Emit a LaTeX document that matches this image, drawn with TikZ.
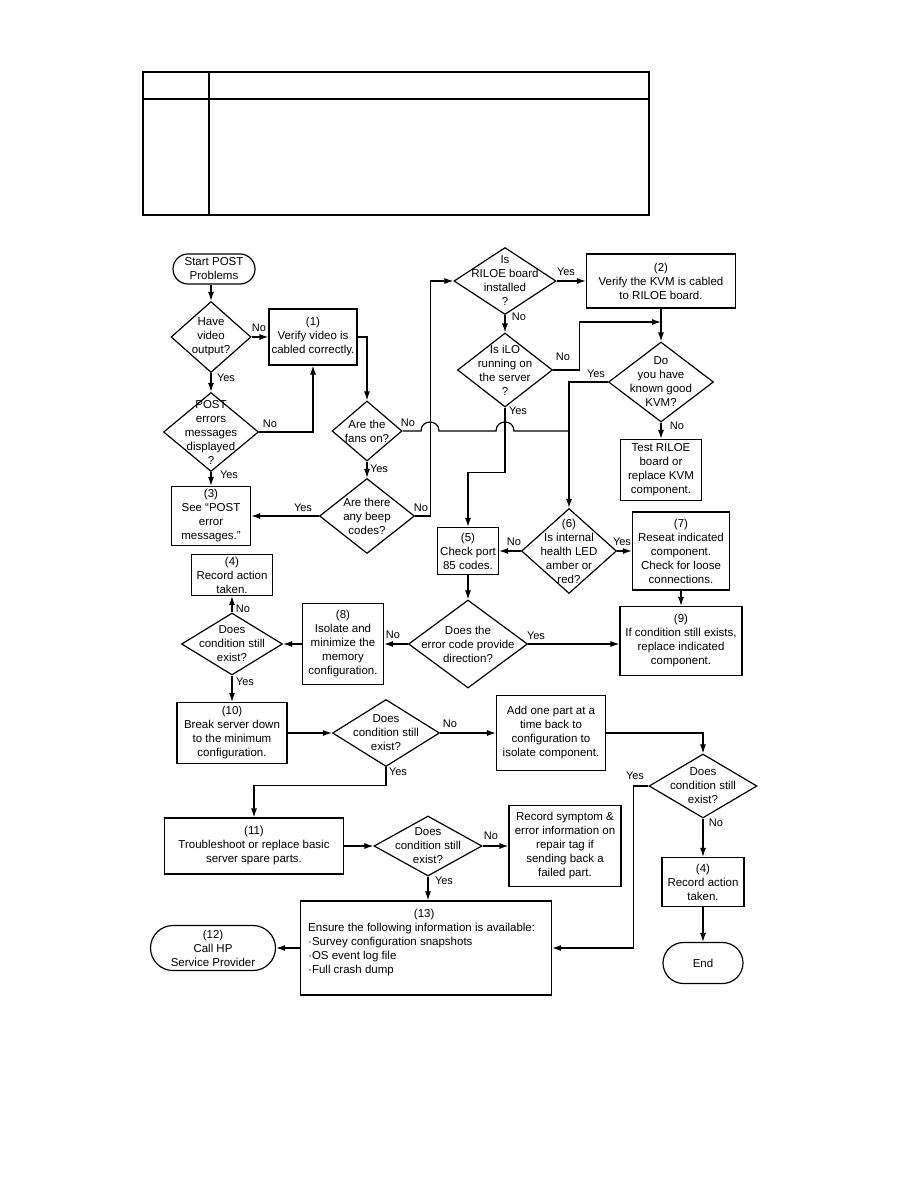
\documentclass[tikz,border=0pt]{standalone}
\usepackage{fontspec}
\setmainfont{Liberation Sans}
\usetikzlibrary{shapes.geometric,shapes.misc,arrows.meta}
\begin{document}
\begin{tikzpicture}[x=1pt,y=-1pt,
 every node/.style={font=\fontsize{11.5}{14}\selectfont},
 box/.style={draw, line width=1.2pt, rectangle, inner sep=1pt, align=center},
 dia/.style={draw, line width=1.2pt, diamond, inner sep=0pt},
 term/.style={draw, line width=1.2pt, rounded rectangle, inner sep=1pt, align=center},
 lbl/.style={inner sep=0pt, align=center},
 arr/.style={line width=1.2pt, -{Latex[length=9pt,width=6pt]}},
 ln/.style={line width=1.2pt},
 yn/.style={inner sep=0pt, font=\fontsize{11}{13}\selectfont}]
\useasboundingbox (0,0) rectangle (918,1188);
% table
\draw[line width=1.5pt] (143,72) rectangle (649,215);
\draw[line width=1.5pt] (209,72) -- (209,215);
\draw[line width=1.5pt] (143,99) -- (649,99);

% nodes
\node[term, minimum width=84pt, minimum height=30pt] (start) at (214,269) {Start POST\\Problems};
\node[dia, minimum width=80pt, minimum height=71pt] (dvid) at (211,337) {};
\node[lbl] (dvidt) at (dvid) {Have\\video\\output?};
\node[box, minimum width=88pt, minimum height=56pt] (b1) at (313,337) {(1)\\Verify video is\\cabled correctly.};
\node[dia, minimum width=95pt, minimum height=79pt] (dpost) at (211,432) {};
\node[lbl] (dpostt) at (dpost) {POST\\errors\\messages\\displayed\\?};
\node[box, minimum width=79pt, minimum height=59pt] (b3) at (211,516) {(3)\\See “POST\\error\\messages.”};
\node[dia, minimum width=70pt, minimum height=60pt] (dfans) at (367,431) {};
\node[lbl] (dfanst) at (dfans) {Are the\\fans on?};
\node[dia, minimum width=95pt, minimum height=75pt] (dbeep) at (367,516) {};
\node[lbl] (dbeept) at (dbeep) {Are there\\any beep\\codes?};
\node[dia, minimum width=102pt, minimum height=67pt] (driloe) at (505,281) {};
\node[lbl] (driloet) at (driloe) {Is\\RILOE board\\installed\\?};
\node[box, minimum width=149pt, minimum height=54pt] (b2) at (661,281) {(2)\\Verify the KVM is cabled\\to RILOE board.};
\node[dia, minimum width=95pt, minimum height=74pt] (dilo) at (505,370) {};
\node[lbl] (dilot) at (dilo) {Is iLO\\running on\\the server\\?};
\node[dia, minimum width=105pt, minimum height=80pt] (dkvm) at (661,382) {};
\node[lbl] (dkvmt) at (dkvm) {Do\\you have\\known good\\KVM?};
\node[box, minimum width=81pt, minimum height=61pt] (btest) at (661,470) {Test RILOE\\board or\\replace KVM\\component.};
\node[box, minimum width=61pt, minimum height=47pt] (b5) at (468,551) {(5)\\Check port\\85 codes.};
\node[dia, minimum width=95pt, minimum height=85pt] (d6) at (569,551) {};
\node[lbl] (d6t) at (d6) {(6)\\Is internal\\health LED\\amber or\\red?};
\node[box, minimum width=97pt, minimum height=78pt] (b7) at (681,551) {(7)\\Reseat indicated\\component.\\Check for loose\\connections.};
\node[box, minimum width=122pt, minimum height=69pt] (b9) at (681,641) {(9)\\If condition still exists,\\replace indicated\\component.};
\node[dia, minimum width=119pt, minimum height=88pt] (derr) at (468,644) {};
\node[lbl] (derrt) at (derr) {Does the\\error code provide\\direction?};
\node[box, minimum width=81pt, minimum height=81pt] (b8) at (343,644) {(8)\\Isolate and\\minimize the\\memory\\configuration.};
\node[dia, minimum width=101pt, minimum height=62pt] (dc1) at (232,644) {};
\node[lbl] (dc1t) at (dc1) {Does\\condition still\\exist?};
\node[box, minimum width=81pt, minimum height=41pt] (b4a) at (232,575) {(4)\\Record action\\taken.};
\node[box, minimum width=110pt, minimum height=61pt] (b10) at (232,733) {(10)\\Break server down\\to the minimum\\configuration.};
\node[dia, minimum width=107pt, minimum height=67pt] (dc2) at (386,733) {};
\node[lbl] (dc2t) at (dc2) {Does\\condition still\\exist?};
\node[box, minimum width=109pt, minimum height=75pt] (badd) at (551,733) {Add one part at a\\time back to\\configuration to\\isolate component.};
\node[box, minimum width=179pt, minimum height=56pt] (b11) at (254,846) {(11)\\Troubleshoot or replace basic\\server spare parts.};
\node[dia, minimum width=108pt, minimum height=60pt] (dc3) at (428,846) {};
\node[lbl] (dc3t) at (dc3) {Does\\condition still\\exist?};
\node[box, minimum width=112pt, minimum height=81pt] (brec) at (565,846) {Record symptom \&\\error information on\\repair tag if\\sending back a\\failed part.};
\node[box, minimum width=251pt, minimum height=94pt] (b13) at (426,948) {};
\node[lbl, anchor=north west, align=left] (b13t) at (308,909) {\makebox[232pt]{(13)}\\Ensure the following information is available:\\·Survey configuration snapshots\\·OS event log file\\·Full crash dump};
\node[term, minimum width=127pt, minimum height=45pt] (t12) at (213,948) {(12)\\Call HP\\Service Provider};
\node[dia, minimum width=108pt, minimum height=64pt] (dc4) at (703,786) {};
\node[lbl] (dc4t) at (dc4) {Does\\condition still\\exist?};
\node[box, minimum width=82pt, minimum height=49pt] (b4b) at (703,882) {(4)\\Record action\\taken.};
\node[term, minimum width=82pt, minimum height=41pt] (tend) at (703,963) {End};

\coordinate (j1) at (569,431);
\coordinate (j2) at (661,322);

% connectors
\draw[arr] (start.south -| dvid.north) -- (dvid.north);
\draw[arr] (dvid.east) -- (b1.west);
\draw[arr] (dvid.south) -- (dpost.north);
\draw[arr] (dpost.east) -| (b1.south);
\draw[arr] (dpost.south) -- (b3.north);
\draw[arr] (b1.east) -| (dfans.north);
\draw[arr] (dfans.south) -- (dbeep.north);
\draw[arr] (dbeep.west) -- (b3.east);
\draw[arr] (dbeep.east) -- ++(15,0) |- (driloe.west);
\draw[ln] (dfans.east) -- (421,431) .. controls (421,419) and (439,419) .. (439,431) -- (496,431) .. controls (496,419) and (514,419) .. (514,431) -- (j1);
\draw[arr] (driloe.east) -- (b2.west);
\draw[arr] (driloe.south) -- (dilo.north);
\draw[arr] (dilo.east) -- ++(26,0) |- (j2);
\draw[arr] (b2.south) -- (dkvm.north);
\draw[arr] (dilo.south) -- ++(0,65) -| (b5.north);
\draw[arr] (dkvm.west) -| (d6.north);
\draw[arr] (dkvm.south) -- (btest.north);
\draw[arr] (d6.west) -- (b5.east);
\draw[arr] (d6.east) -- (b7.west);
\draw[arr] (b7.south) -- (b9.north);
\draw[arr] (b5.south) -- (derr.north);
\draw[arr] (derr.east) -- (b9.west |- derr.east);
\draw[arr] (derr.west) -- (b8.east);
\draw[arr] (b8.west) -- (dc1.east);
\draw[arr] (dc1.north) -- (b4a.south);
\draw[arr] (dc1.south) -- (b10.north);
\draw[arr] (b10.east) -- (dc2.west);
\draw[arr] (dc2.east) -- (badd.west);
\draw[arr] (dc2.south) -- ++(0,18) -| (b11.north);
\draw[arr] (badd.east) -| (dc4.north);
\draw[arr] (b11.east) -- (dc3.west);
\draw[arr] (dc3.east) -- (brec.west);
\draw[arr] (dc3.south) -- (dc3.south |- b13.north);
\draw[arr] (b13.west) -- (t12.east);
\draw[arr] (dc4.west) -- ++(-15,0) |- (b13.east);
\draw[arr] (dc4.south) -- (b4b.north);
\draw[arr] (b4b.south) -- (tend.north);

% yes/no labels
\node[yn] (l1) at (259,328) {No};
\node[yn] (l2) at (226,378) {Yes};
\node[yn] (l3) at (270,424) {No};
\node[yn] (l4) at (229,475) {Yes};
\node[yn] (l5) at (408,423) {No};
\node[yn] (l6) at (379,469) {Yes};
\node[yn] (l7) at (303,508) {Yes};
\node[yn] (l8) at (421,508) {No};
\node[yn] (l9) at (566,272) {Yes};
\node[yn] (l10) at (519,317) {No};
\node[yn] (l11) at (563,357) {No};
\node[yn] (l12) at (518,411) {Yes};
\node[yn] (l13) at (596,374) {Yes};
\node[yn] (l14) at (677,426) {No};
\node[yn] (l15) at (514,542) {No};
\node[yn] (l16) at (622,542) {Yes};
\node[yn] (l17) at (536,636) {Yes};
\node[yn] (l18) at (393,635) {No};
\node[yn] (l19) at (243,609) {No};
\node[yn] (l20) at (245,682) {Yes};
\node[yn] (l21) at (450,724) {No};
\node[yn] (l22) at (398,772) {Yes};
\node[yn] (l23) at (491,836) {No};
\node[yn] (l24) at (444,881) {Yes};
\node[yn] (l25) at (635,776) {Yes};
\node[yn] (l26) at (716,823) {No};
\end{tikzpicture}
\end{document}
